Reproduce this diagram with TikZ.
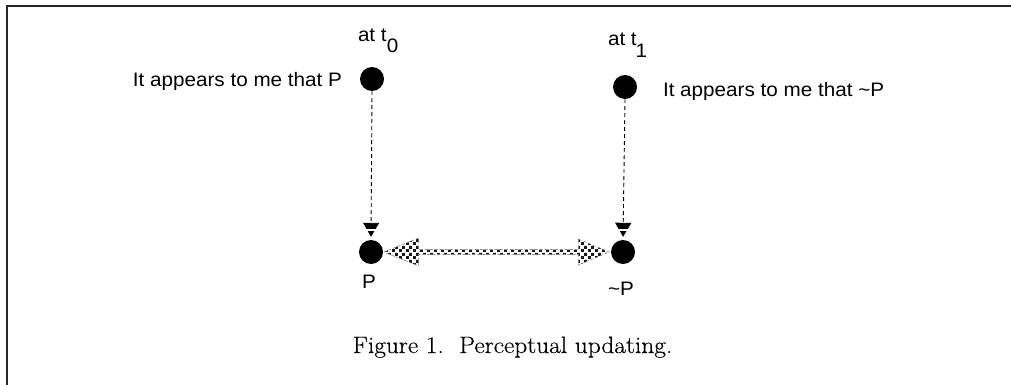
\documentclass[tikz,border=0pt]{standalone}
\usepackage{fontspec}
\newfontfamily\arialf{Liberation Sans}
\newfontfamily\capf{Latin Modern Roman}[FakeBold=0.35]
\usetikzlibrary{calc,arrows.meta,patterns}
\pgfdeclarepatternformonly{sparsecheck}{\pgfpointorigin}{\pgfqpoint{7pt}{7pt}}{\pgfqpoint{7pt}{7pt}}{%
  \pgfpathrectangle{\pgfpointorigin}{\pgfqpoint{3.3pt}{3.3pt}}%
  \pgfpathrectangle{\pgfqpoint{3.5pt}{3.5pt}}{\pgfqpoint{3.3pt}{3.3pt}}%
  \pgfusepath{fill}}
\newcommand{\sanslbl}[1]{\scalebox{1.06}[1]{\arialf\fontsize{19.5}{23}\selectfont #1}}
\tikzset{
  dot/.style={circle, fill=black, inner sep=0pt, minimum size=24pt},
  lbl/.style={inner sep=0pt, outer sep=0pt},
  frameline/.style={line width=2pt, draw=black!85},
  vconn/.style={line width=0.9pt, dash pattern=on 4pt off 3pt,
    -{Triangle[length=14pt,width=16pt]}, shorten >=3pt},
  gapline/.style={draw=white, line width=1.6pt},
  dblarrow/.style={pattern=sparsecheck, pattern color=black!90,
    draw=black!45, line width=0.6pt, dash pattern=on 3pt off 2pt}
}
\begin{document}
\begin{tikzpicture}[x=1pt,y=-1pt]
\useasboundingbox (0,0) rectangle (1011,385);
% frame
\draw[frameline] (7,385) -- (7,6) -- (1011,6);
% dots
\node[dot] (t0) at (372,79) {};
\node[dot] (t1) at (625,87) {};
\node[dot] (p0) at (371,252) {};
\node[dot] (p1) at (623,252) {};
% labels
\node[lbl, anchor=base east] (l0) at (342,86.5) {\sanslbl{It appears to me that P}};
\node[lbl, anchor=base west] (l1) at (663,96.5) {\sanslbl{It appears to me that \char`~P}};
\node[lbl, anchor=base west] (a0) at (358,42) {\sanslbl{at t\kern0.2pt\raisebox{-10.5pt}{0}}};
\node[lbl, anchor=base west] (a1) at (608,46) {\sanslbl{at t\kern-1pt\raisebox{-11.5pt}{1}}};
\node[lbl, anchor=base] (q0) at (369,288) {\sanslbl{P}};
\node[lbl, anchor=base] (q1) at (621,295) {\sanslbl{\char`~P}};
\node[lbl, anchor=base] (cap) at (512.5,353) {\scalebox{1.07}[1]{\capf\fontsize{23.7}{28}\selectfont Figure 1.\ \ Perceptual updating.}};
% vertical connectors
\draw[vconn] (t0.south) -- ($(p0.north)$);
\draw[vconn] (t1.south) -- ($(p1.north)$);
\draw[gapline] ($(p0.north)+(-9,-10)$) -- ++(18,0);
\draw[gapline] ($(p1.north)+(-9,-10)$) -- ++(18,0);
% horizontal double arrow
\coordinate (ha) at ($(p0.east)+(0.5,0)$);
\coordinate (hb) at ($(p1.west)+(-1.5,0)$);
\path[dblarrow] (ha) -- ($(ha)+(35,-14)$) -- ($(ha)+(35,-2.5)$) -- ($(hb)+(-31,-2.5)$)
  -- ($(hb)+(-31,-13)$) -- (hb) -- ($(hb)+(-31,13)$) -- ($(hb)+(-31,2.5)$)
  -- ($(ha)+(35,2.5)$) -- ($(ha)+(35,14)$) -- cycle;
\end{tikzpicture}
\end{document}
